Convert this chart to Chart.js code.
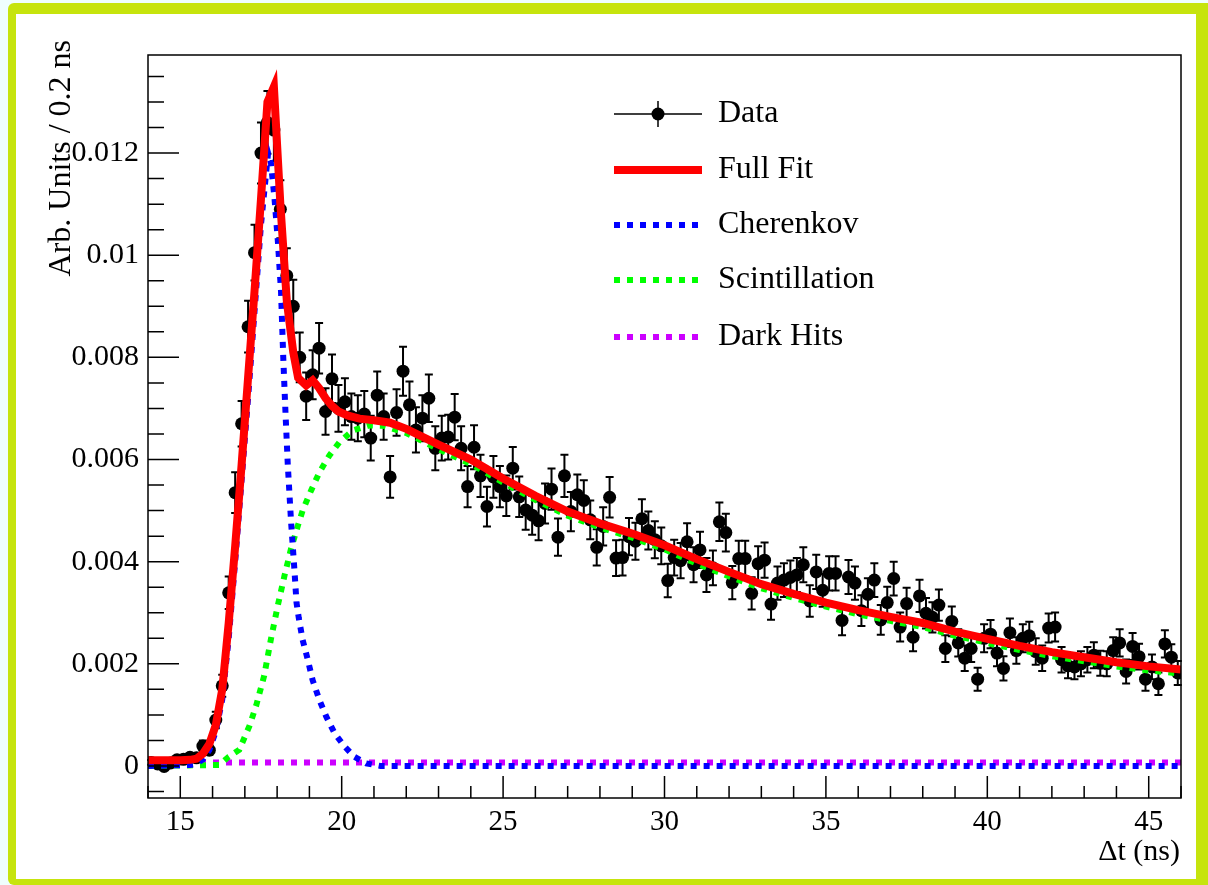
<!DOCTYPE html>
<html>
<head>
<meta charset="utf-8">
<script src="https://cdn.jsdelivr.net/npm/chart.js@4.4.1/dist/chart.umd.min.js"></script>
<style>
  html, body { margin: 0; padding: 0; background: #effefd; overflow: hidden; }
  #frame { position: absolute; left: 8px; top: 3px; width: 1200px; height: 882px; background: #c6e40d; border-radius: 6px 0 0 6px; }
  #paper { position: absolute; left: 16px; top: 14px; width: 1180px; height: 865px; background: #fff; }
  #chart { position: absolute; left: 0; top: 0; }
</style>
</head>
<body>
<div id="frame"></div>
<div id="paper"></div>
<canvas id="chart" width="1208" height="885"></canvas>
<script>
// histogram binning: 160 bins of 0.2 ns from 14 to 46 ns
const binLo = 14;
const binWidth = 0.2;

// measured data, one value per bin (arb. units / 0.2 ns)
const counts = [
  0.00007, 0.00004, -0.00001, 0.00006, 0.00012, 0.00013, 0.00017, 0.00016, 0.00039, 0.00031,
  0.0009, 0.00157, 0.00339, 0.00535, 0.0067, 0.0086, 0.01005, 0.0120, 0.0126, 0.01245,
  0.0109, 0.0096, 0.0090, 0.0080, 0.00724, 0.00766, 0.00818, 0.00694, 0.00758, 0.0070,
  0.00713, 0.00684, 0.00681, 0.00689, 0.00642, 0.00726, 0.00684, 0.00566, 0.00692, 0.00773,
  0.00707, 0.00658, 0.00681, 0.0072, 0.00622, 0.00642, 0.00644, 0.00683, 0.00622, 0.00547,
  0.00624, 0.00568, 0.00508, 0.00566, 0.00547, 0.00529, 0.00583, 0.00527, 0.00501, 0.00491,
  0.0048, 0.00514, 0.00542, 0.00448, 0.00568, 0.00498, 0.00531, 0.0052, 0.00482, 0.00428,
  0.00469, 0.00526, 0.00407, 0.00408, 0.00449, 0.0044, 0.00484, 0.00461, 0.00443, 0.00431,
  0.00363, 0.00408, 0.00402, 0.00439, 0.00394, 0.00423, 0.00374, 0.00388, 0.00478, 0.00457,
  0.00359, 0.00406, 0.00406, 0.00338, 0.00396, 0.00403, 0.00317, 0.00358, 0.00364, 0.00369,
  0.00374, 0.00394, 0.00323, 0.0038, 0.00344, 0.00377, 0.00377, 0.00285, 0.0037, 0.00358,
  0.00304, 0.00336, 0.00364, 0.00286, 0.0032, 0.00367, 0.00272, 0.00318, 0.00252, 0.00333,
  0.00299, 0.00291, 0.00315, 0.0023, 0.00283, 0.00241, 0.00211, 0.0023, 0.0017, 0.0025,
  0.00258, 0.00221, 0.00191, 0.00261, 0.00226, 0.0025, 0.00255, 0.00224, 0.00211, 0.0027,
  0.00272, 0.00208, 0.00196, 0.00194, 0.002, 0.00208, 0.00217, 0.00201, 0.002, 0.00226,
  0.00241, 0.00185, 0.00234, 0.00214, 0.0017, 0.00194, 0.00161, 0.00239, 0.00213, 0.00182
];
// statistical error of a bin grows like sqrt(content); scale
const errScale = 0.00546;

const fullT = [14, 15, 15.3, 15.5, 15.7, 15.9, 16.1, 16.3, 16.5, 16.7, 16.9, 17.1, 17.3, 17.5, 17.7, 17.9,
  18.1, 18.3, 18.5, 18.65, 18.9, 19.1, 19.3, 19.5, 19.7, 19.9, 20.2, 20.55, 21, 21.5,
  22, 23, 24, 25, 26, 27, 28, 29, 30, 31, 32, 33, 34, 35, 36, 37, 38, 39, 40, 41, 42, 43, 44, 45, 46];
const fullFit = [0.00011, 0.00011, 0.00012, 0.00014, 0.00024, 0.00043, 0.0008, 0.0015, 0.0028, 0.0043, 0.0059, 0.0076, 0.0093, 0.0111, 0.0130, 0.0133,
  0.0110, 0.0091, 0.0081, 0.0076, 0.00745, 0.00755, 0.0074, 0.0072, 0.00705, 0.00694, 0.00686, 0.0068, 0.00677, 0.00672,
  0.0066, 0.00629, 0.006, 0.00563, 0.00529, 0.00498, 0.00475, 0.00455, 0.00432, 0.00405, 0.0038, 0.00356, 0.00337, 0.0032,
  0.00305, 0.00292, 0.0028, 0.00263, 0.00249, 0.00235, 0.00223, 0.00213, 0.00203, 0.00195, 0.00189];

const cherT = [14, 15.3, 15.5, 15.7, 15.9, 16.1, 16.3, 16.5, 16.7, 16.9, 17.1, 17.3, 17.5, 17.72, 17.81, 17.92,
  18.02, 18.12, 18.19, 18.26, 18.33, 18.43, 18.54, 18.6, 18.67, 18.79, 18.95, 19.1, 19.31, 19.52, 19.78,
  20.09, 20.4, 20.76, 21.2, 46];
const cherenkov = [0, 0.00002, 0.00004, 0.00013, 0.00031, 0.00068, 0.0013, 0.0025, 0.0040, 0.0056, 0.0072, 0.0089, 0.0106, 0.0120, 0.0118, 0.0111,
  0.0103, 0.0093, 0.0080, 0.0069, 0.0059, 0.0048, 0.0038, 0.0032, 0.0029, 0.00247, 0.00208, 0.00168, 0.00129, 0.00097, 0.00064,
  0.00038, 0.00018, 0.00005, 0, 0];

const scintT = [14, 16.2, 16.5, 16.83, 17.14, 17.35, 17.6, 17.81, 18.02, 18.23, 18.43, 18.64, 18.79, 19.05, 19.31, 19.62,
  19.93, 20.35, 20.86, 21.3, 22, 23, 24, 25, 26, 27, 28, 29, 30, 31, 32, 33, 34, 35, 36, 37, 38, 39, 40, 41, 42, 43, 44, 45, 46];
const scintillation = [0, 0.00002, 0.00018, 0.00032, 0.00078, 0.00118, 0.00177, 0.00249, 0.00314, 0.00373, 0.00425, 0.0047, 0.005, 0.00539, 0.00575, 0.00608,
  0.00634, 0.00657, 0.00667, 0.00666, 0.00652, 0.0062, 0.00591, 0.00555, 0.00521, 0.0049, 0.00467, 0.00447, 0.00424, 0.00396, 0.00371,
  0.00348, 0.00329, 0.00312, 0.00297, 0.00284, 0.00272, 0.00255, 0.00241, 0.00227, 0.00215, 0.00205, 0.00195, 0.00187, 0.00181];

const darkT = [14, 46];
const darkHits = [0.00007, 0.00007];

// axis ticks
const xMin = 14, xMax = 46;
const yMin = -0.000627, yMax = 0.01392;
const xLabelled = [15, 20, 25, 30, 35, 40, 45];
const yTicks = [-0.0005, 0, 0.0005, 0.001, 0.0015, 0.002, 0.0025, 0.003, 0.0035, 0.004, 0.0045, 0.005, 0.0055, 0.006,
  0.0065, 0.007, 0.0075, 0.008, 0.0085, 0.009, 0.0095, 0.01, 0.0105, 0.011, 0.0115, 0.012, 0.0125, 0.013, 0.0135];
const yLabels = ['0', '0.002', '0.004', '0.006', '0.008', '0.01', '0.012'];

const serif = "'Liberation Serif', 'Times New Roman', serif";

function toPoints(xs, ys) {
    return xs.map((x, i) => ({ x: x, y: ys[i] }));
}

var dataPoints = counts.map((v, i) => ({ x: binLo + binWidth * (i + 0.5), y: v }));

// error bars under the data markers
const errorBars = {
    id: 'errorBars',
    beforeDatasetDraw(chart, args) {
        if (args.index !== 0) return;
        const ctx = chart.ctx;
        const x = chart.scales.x, y = chart.scales.y;
        ctx.save();
        ctx.strokeStyle = '#000';
        ctx.lineWidth = 2;
        dataPoints.forEach(function (p) {
            const e = errScale * Math.sqrt(Math.max(p.y, 0));
            const px = x.getPixelForValue(p.x);
            const top = y.getPixelForValue(p.y + e);
            const bot = y.getPixelForValue(p.y - e);
            ctx.beginPath();
            ctx.moveTo(px, top); ctx.lineTo(px, bot);
            ctx.moveTo(px - 4, top); ctx.lineTo(px + 4, top);
            ctx.moveTo(px - 4, bot); ctx.lineTo(px + 4, bot);
            ctx.stroke();
        });
        ctx.restore();
    }
};

// ROOT style frame with ticks pointing inwards, plus axis titles and legend
const frameAndLegend = {
    id: 'frameAndLegend',
    afterDraw(chart) {
        const ctx = chart.ctx;
        const a = chart.chartArea;
        const x = chart.scales.x, y = chart.scales.y;
        ctx.save();
        ctx.strokeStyle = '#000';
        ctx.lineWidth = 1.5;
        ctx.strokeRect(a.left, a.top, a.right - a.left, a.bottom - a.top);

        ctx.beginPath();
        x.ticks.forEach(function (t) {
            const px = x.getPixelForValue(t.value);
            const len = (t.value % 5 === 0) ? 22 : 12;
            ctx.moveTo(px, a.bottom); ctx.lineTo(px, a.bottom - len);
        });
        y.ticks.forEach(function (t) {
            const py = y.getPixelForValue(t.value);
            const major = Math.abs(t.value / 0.002 - Math.round(t.value / 0.002)) < 1e-6;
            ctx.moveTo(a.left, py); ctx.lineTo(a.left + (major ? 31 : 16), py);
        });
        ctx.stroke();

        // axis titles
        ctx.fillStyle = '#000';
        ctx.font = '30px ' + serif;
        ctx.textAlign = 'right';
        ctx.textBaseline = 'middle';
        ctx.fillText('\u0394t (ns)', a.right - 1, 852);
        ctx.save();
        ctx.font = '32px ' + serif;
        ctx.translate(62, 40);
        ctx.rotate(-Math.PI / 2);
        ctx.fillText('Arb. Units / 0.2 ns', 0, 0);
        ctx.restore();

        // legend
        const rows = [114, 170, 225, 280, 337];
        const x0 = 614, x1 = 702;
        ctx.font = '32px ' + serif;
        ctx.textAlign = 'left';
        chart.data.datasets.forEach(function (ds, i) {
            const ry = rows[i];
            ctx.save();
            if (i === 0) {
                ctx.strokeStyle = '#000';
                ctx.lineWidth = 1.5;
                ctx.beginPath();
                ctx.moveTo(x0, ry); ctx.lineTo(x1, ry);
                ctx.moveTo((x0 + x1) / 2, ry - 13); ctx.lineTo((x0 + x1) / 2, ry + 13);
                ctx.stroke();
                ctx.fillStyle = '#000';
                ctx.beginPath();
                ctx.arc((x0 + x1) / 2, ry, 6.5, 0, Math.PI * 2);
                ctx.fill();
            } else {
                ctx.strokeStyle = ds.borderColor;
                ctx.lineWidth = ds.borderWidth;
                ctx.setLineDash(ds.borderDash || []);
                ctx.beginPath();
                ctx.moveTo(x0, ry); ctx.lineTo(x1, ry);
                ctx.stroke();
            }
            ctx.restore();
            ctx.fillText(ds.label, 718, ry);
        });
        ctx.restore();
    }
};

const dotted = [6, 7];

new Chart(document.getElementById('chart'), {
    type: 'scatter',
    data: {
        datasets: [
            {
                label: 'Data',
                data: dataPoints,
                pointRadius: 6.5,
                pointHoverRadius: 6.5,
                backgroundColor: '#000',
                borderWidth: 0,
                order: 5
            },
            {
                label: 'Full Fit',
                data: toPoints(fullT, fullFit),
                showLine: true,
                borderColor: '#ff0000',
                borderWidth: 8,
                pointRadius: 0,
                borderJoinStyle: 'miter',
                order: 1
            },
            {
                label: 'Cherenkov',
                data: toPoints(cherT, cherenkov),
                showLine: true,
                borderColor: '#0000ff',
                borderWidth: 6,
                borderDash: dotted,
                pointRadius: 0,
                order: 2
            },
            {
                label: 'Scintillation',
                data: toPoints(scintT, scintillation),
                showLine: true,
                borderColor: '#00ff00',
                borderWidth: 6,
                borderDash: dotted,
                pointRadius: 0,
                order: 3
            },
            {
                label: 'Dark Hits',
                data: toPoints(darkT, darkHits),
                showLine: true,
                borderColor: '#cc00ff',
                borderWidth: 6,
                borderDash: dotted,
                pointRadius: 0,
                order: 4
            }
        ]
    },
    options: {
        responsive: false,
        animation: false,
        devicePixelRatio: 1,
        layout: { padding: { top: 55, right: 27, left: 0, bottom: 0 } },
        plugins: {
            legend: { display: false },
            tooltip: { enabled: false }
        },
        scales: {
            x: {
                type: 'linear',
                min: xMin,
                max: xMax,
                afterFit: function (s) { s.height = 87; },
                afterBuildTicks: function (s) {
                    var t = [];
                    for (let v = xMin; v <= xMax; v++) t.push({ value: v });
                    s.ticks = t;
                },
                grid: { display: false, drawTicks: false },
                border: { display: false },
                ticks: {
                    autoSkip: false,
                    maxRotation: 0,
                    padding: 7,
                    color: '#000',
                    font: { family: serif, size: 29 },
                    callback: function (v) { return xLabelled.includes(v) ? String(v) : ''; }
                }
            },
            y: {
                type: 'linear',
                min: yMin,
                max: yMax,
                afterFit: function (s) { s.width = 148; },
                afterBuildTicks: function (s) {
                    s.ticks = yTicks.map(v => ({ value: v }));
                },
                grid: { display: false, drawTicks: false },
                border: { display: false },
                ticks: {
                    autoSkip: false,
                    padding: 9,
                    color: '#000',
                    font: { family: serif, size: 30 },
                    callback: function (v) {
                        const k = v / 0.002;
                        if (Math.abs(k - Math.round(k)) > 1e-6 || k < 0) return '';
                        return yLabels[Math.round(k)];
                    }
                }
            }
        }
    },
    plugins: [errorBars, frameAndLegend]
});
</script>
</body>
</html>
